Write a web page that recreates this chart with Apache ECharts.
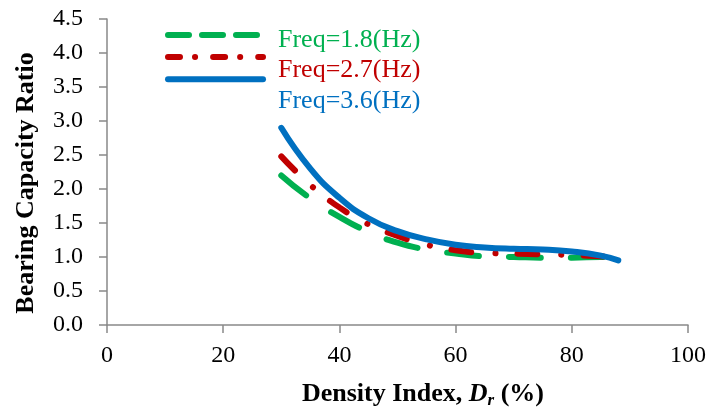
<!DOCTYPE html>
<html>
<head>
<meta charset="utf-8">
<script src="https://cdn.jsdelivr.net/npm/echarts@6/dist/echarts.min.js"></script>
<style>
  html, body { margin: 0; padding: 0; background: #fff; }
  #chart { width: 709px; height: 414px; }
</style>
</head>
<body>
<div id="chart"></div>
<script>
var dom = document.getElementById("chart");
var myChart = echarts.init(dom);

// density index (%)
var densityIndex = [30, 35, 40, 45, 50, 55, 60, 65, 70, 75, 80, 85, 88];
// bearing capacity ratio for each loading frequency
var ratio18 = [2.20, 1.86, 1.59, 1.37, 1.21, 1.11, 1.05, 1.01, 1.00, 0.99, 0.99, 1.00, 1.00];
var ratio27 = [2.48, 2.06, 1.73, 1.48, 1.31, 1.18, 1.10, 1.06, 1.05, 1.04, 1.03, 1.01, 1.00];
var ratio36 = [2.90, 2.30, 1.87, 1.57, 1.38, 1.26, 1.18, 1.14, 1.12, 1.11, 1.08, 1.02, 0.95];
var seriesNames = ['Freq=1.8(Hz)', 'Freq=2.7(Hz)', 'Freq=3.6(Hz)'];

var color = ['#00B050', '#C00000', '#0070C0'];
var dashes = [[32, 30], [20, 24, 0.1, 22], 'solid'];
// the legend samples use a shorter pattern
var legendDashes = [[21, 13], [12, 15, 0.1, 18], 'solid'];
var font = '"Liberation Serif", "Times New Roman", serif';

var pair = function (ys) {
    var res = [];
    for (var i = 0; i < densityIndex.length; i++) {
        res.push([densityIndex[i], ys[i]]);
    }
    return res;
};

var series = [];
[ratio18, ratio27, ratio36].forEach(function (ys, i) {
    series.push({
        name: seriesNames[i],
        type: 'line',
        smooth: 0.5,
        showSymbol: false,
        symbol: 'none',
        lineStyle: {
            color: color[i],
            width: 6,
            type: dashes[i],
            cap: 'round'
        },
        itemStyle: { color: color[i] },
        data: pair(ys)
    });
});

var option = {
    backgroundColor: '#fff',
    animation: false,
    legend: [{
        // line samples
        orient: 'vertical',
        left: 165,
        top: 28,
        padding: 0,
        itemWidth: 95,
        itemHeight: 14,
        itemGap: 9.5,
        itemStyle: { opacity: 0 },
        lineStyle: { width: 6, cap: 'round' },
        formatter: function () { return ''; },
        data: seriesNames.map(function (n, i) {
            return { name: n, lineStyle: { type: legendDashes[i], width: 6, cap: 'round' } };
        })
    }, {
        // labels
        orient: 'vertical',
        left: 273,
        top: 27,
        padding: 0,
        itemWidth: 0,
        itemHeight: 0,
        itemGap: 4.5,
        itemStyle: { opacity: 0 },
        lineStyle: { width: 0 },
        data: seriesNames.map(function (n, i) {
            return { name: n, textStyle: { color: color[i] } };
        }),
        textStyle: {
            fontFamily: font,
            fontSize: 26,
            lineHeight: 26
        }
    }],
    grid: {
        left: 107,
        right: 19,
        top: 19,
        bottom: 88
    },
    xAxis: {
        type: 'value',
        min: 0,
        max: 100,
        interval: 20,
        name: '{b|Density Index, }{i|D}{s|r}{b| (%)}',
        nameLocation: 'middle',
        nameGap: 55,
        nameTextStyle: {
            padding: [0, 0, 0, 51],
            rich: {
                b: { fontFamily: font, fontSize: 26, fontWeight: 'bold', color: '#000' },
                i: { fontFamily: font, fontSize: 26, fontWeight: 'bold', fontStyle: 'italic', color: '#000' },
                s: { fontFamily: font, fontSize: 17, fontWeight: 'bold', fontStyle: 'italic', color: '#000', padding: [12, 0, 0, 0] }
            }
        },
        axisLine: { lineStyle: { color: '#898989', width: 1.5 } },
        axisTick: { show: true, length: 8, inside: false, lineStyle: { color: '#898989', width: 1.5 } },
        axisLabel: { margin: 19, fontFamily: font, fontSize: 24, color: '#000' },
        splitLine: { show: false }
    },
    yAxis: {
        type: 'value',
        min: 0,
        max: 4.5,
        interval: 0.5,
        name: 'Bearing Capacity Ratio',
        nameLocation: 'middle',
        nameGap: 68,
        nameTextStyle: {
            fontFamily: font,
            fontSize: 26,
            fontWeight: 'bold',
            color: '#000',
            padding: [0, 22, 0, 0]
        },
        axisLine: { show: true, lineStyle: { color: '#898989', width: 1.5 } },
        axisTick: { show: true, length: 8, lineStyle: { color: '#898989', width: 1.5 } },
        axisLabel: {
            margin: 24,
            fontFamily: font,
            fontSize: 24,
            color: '#000',
            formatter: function (v) { return v.toFixed(1); }
        },
        splitLine: { show: false }
    },
    series: series
};
myChart.setOption(option, true);
</script>
</body>
</html>
